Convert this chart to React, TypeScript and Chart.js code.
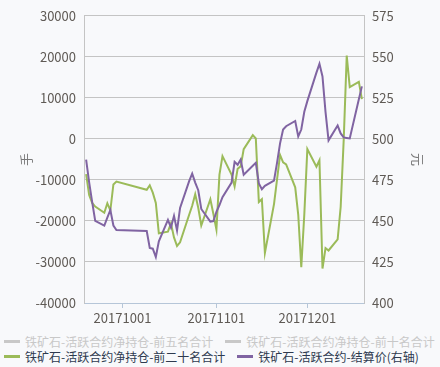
import React, { useEffect, useRef } from "react";
import { Chart, registerables } from "chart.js";

Chart.register(...registerables);

// Trading dates
const dates: string[] = [
  "20170919", "20170920", "20170921", "20170922", "20170925", "20170926", "20170927", "20170928", "20170929",
  "20171009", "20171010", "20171011", "20171012", "20171013", "20171016", "20171017", "20171018", "20171019", "20171020",
  "20171023", "20171024", "20171025", "20171026", "20171027", "20171030", "20171031",
  "20171101", "20171102", "20171103", "20171106", "20171107", "20171108", "20171109", "20171110",
  "20171113", "20171114", "20171115", "20171116", "20171117", "20171120", "20171121", "20171122", "20171123", "20171124",
  "20171127", "20171128", "20171129", "20171130",
  "20171201", "20171204", "20171205", "20171206", "20171207", "20171208", "20171211", "20171212", "20171213", "20171214", "20171215",
  "20171218", "20171219",
];

// 铁矿石-活跃合约净持仓-前二十名合计 (手, left axis)
const top20Net: number[] = [
  -8600, -13700, -15600, -16500, -18000, -15700, -17400, -11100, -10400,
  -12400, -11300, -13100, -15600, -23000, -22600, -20600, -24000, -26100, -25200,
  -18500, -16300, -13500, -16800, -21100, -14700, -18300,
  -22100, -8700, -4200, -8700, -11600, -7300, -6700, -2500,
  900, 100, -15400, -14700, -27800, -15900, -9900, -3900, -5700, -6200,
  -11800, -18500, -31300, -18400,
  -2500, -6800, -5200, -31600, -26600, -27200, -24500, -16600, -300, 20300, 12600,
  13900, 9700,
];

// 铁矿石-活跃合约-结算价 (元, right axis)
const settlePrice: number[] = [
  487.4, 473.5, 461.5, 450.0, 447.2, 452.0, 456.7, 447.2, 444.5,
  443.9, 433.6, 433.1, 428.0, 437.6, 450.7, 446.0, 453.1, 444.2, 457.9,
  474.3, 478.8, 473.4, 468.7, 457.3, 449.6, 449.9,
  455.5, 459.7, 464.5, 473.4, 486.0, 484.2, 487.4, 478.2,
  483.6, 485.4, 472.9, 469.3, 471.4, 474.5, 485.4, 497.3, 505.7, 507.7,
  510.9, 501.5, 505.7, 516.5,
  523.0, 540.4, 545.7, 538.0, 516.5, 499.1, 508.1, 503.3, 500.9, 500.6, 500.3,
  524.2, 532.0,
];

const xTickLabels: string[] = ["20171001", "20171101", "20171201"];

const legendLabels: string[] = [
  "铁矿石-活跃合约净持仓-前五名合计",
  "铁矿石-活跃合约净持仓-前十名合计",
  "铁矿石-活跃合约净持仓-前二十名合计",
  "铁矿石-活跃合约-结算价(右轴)",
];
const legendColors: string[] = ["#c8c8c8", "#c8c8c8", "#9bbb59", "#8064a2"];
const legendTextColors: string[] = ["#c8c8c8", "#c8c8c8", "#2e3a4f", "#2e3a4f"];

const BASE = Date.UTC(2017, 8, 18);
function dayIndex(s: string): number {
  const y = +s.slice(0, 4);
  const m = +s.slice(4, 6) - 1;
  const d = +s.slice(6, 8);
  return (Date.UTC(y, m, d) - BASE) / 86400000;
}

const FONT = '"Noto Sans CJK SC", "Noto Sans", sans-serif';

export default function App() {
  const ref = useRef<HTMLCanvasElement | null>(null);

  useEffect(() => {
    if (!ref.current) return;
    Chart.defaults.font.family = FONT;
    Chart.defaults.font.size = 13;
    const tickDays = xTickLabels.map(dayIndex);
    const chart = new Chart(ref.current, {
      type: "line",
      data: {
        datasets: [
          {
            label: legendLabels[3],
            data: dates.map((d, i) => ({ x: dayIndex(d), y: settlePrice[i] })),
            borderColor: legendColors[3],
            backgroundColor: legendColors[3],
            borderWidth: 2,
            pointRadius: 0,
            tension: 0,
            yAxisID: "y1",
          },
          {
            label: legendLabels[2],
            data: dates.map((d, i) => ({ x: dayIndex(d), y: top20Net[i] })),
            borderColor: legendColors[2],
            backgroundColor: legendColors[2],
            borderWidth: 2,
            pointRadius: 0,
            tension: 0,
            yAxisID: "y",
          },
        ],
      },
      options: {
        responsive: false,
        animation: false,
        devicePixelRatio: 1,
        layout: { padding: { top: 10, left: 0, right: 0, bottom: 0 } },
        plugins: { legend: { display: false }, tooltip: { enabled: false } },
        scales: {
          x: {
            type: "linear",
            min: 0.3,
            max: 92.7,
            afterBuildTicks: (scale: any) => {
              scale.ticks = tickDays.map((v) => ({ value: v }));
            },
            afterFit: (scale: any) => {
              scale.height = 25;
            },
            ticks: {
              color: "#5f5a55",
              padding: 2,
              maxRotation: 0,
              autoSkip: false,
              callback: (v: any) => {
                const i = tickDays.indexOf(Number(v));
                return i >= 0 ? xTickLabels[i] : "";
              },
            },
            grid: {
              drawOnChartArea: false,
              drawTicks: true,
              tickLength: 5,
              color: "#b6c6d8",
            },
            border: { color: "#b6c6d8" },
          },
          y: {
            position: "left",
            min: -40000,
            max: 30000,
            afterFit: (scale: any) => {
              scale.width = 84;
            },
            ticks: { stepSize: 10000, color: "#5f5a55", padding: 8, callback: (v: any) => String(v) },
            grid: { color: "#c4c4c4", drawTicks: false },
            border: { color: "#c4c4c4" },
            title: {
              display: true,
              text: "手",
              color: "#7a7a7a",
              font: { size: 13, family: FONT },
              padding: { top: 18, bottom: 0 },
            },
          },
          y1: {
            position: "right",
            min: 400,
            max: 575,
            afterFit: (scale: any) => {
              scale.width = 76;
            },
            ticks: { stepSize: 25, color: "#5f5a55", padding: 8, callback: (v: any) => String(v) },
            grid: { drawOnChartArea: false, drawTicks: false },
            border: { color: "#c4c4c4" },
            title: {
              display: true,
              text: "元",
              color: "#7a7a7a",
              font: { size: 13, family: FONT },
              padding: { top: 14, bottom: 0 },
            },
          },
        },
      },
    } as any);
    return () => chart.destroy();
  }, []);

  const item = (i: number) => (
    <div key={i} style={{ display: "flex", alignItems: "center", marginRight: 8, whiteSpace: "nowrap" }}>
      <span
        style={{
          display: "inline-block",
          width: 16,
          height: 3,
          background: legendColors[i],
          marginLeft: 4,
          marginRight: 5,
        }}
      />
      <span style={{ color: legendTextColors[i] }}>{legendLabels[i]}</span>
    </div>
  );

  return (
    <div
      style={{
        position: "fixed",
        left: 0,
        top: 0,
        width: 440,
        height: 367,
        background: "#f8f9fb",
        overflow: "hidden",
      }}
    >
      <canvas ref={ref} width={440} height={328} style={{ position: "absolute", left: 0, top: 0, width: 440, height: 328 }} />
      <div
        style={{
          position: "absolute",
          left: 0,
          top: 334,
          width: 440,
          fontFamily: FONT,
          fontSize: 12,
          lineHeight: "15px",
        }}
      >
        <div style={{ display: "flex", height: 15 }}>{[0, 1].map(item)}</div>
        <div style={{ display: "flex", height: 15 }}>{[2, 3].map(item)}</div>
      </div>
    </div>
  );
}
